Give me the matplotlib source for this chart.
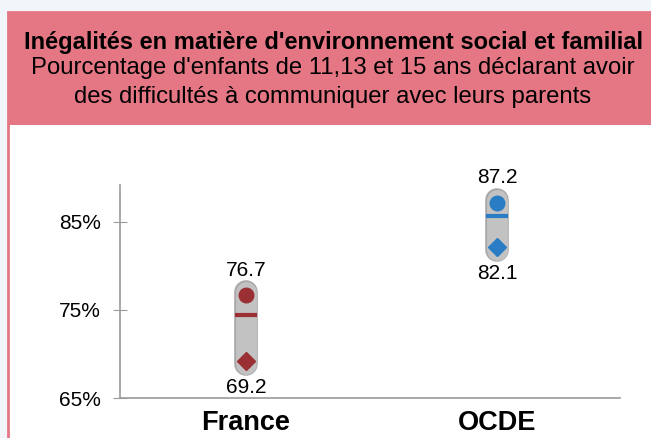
import matplotlib.pyplot as plt
from matplotlib.patches import Rectangle

plt.rcParams['font.family'] = ['Liberation Sans', 'DejaVu Sans']

# données
pays = ["France", "OCDE"]
val_haut = [76.7, 87.2]     # cercle
val_bas = [69.2, 82.1]      # losange
moyenne = [74.4, 85.7]      # trait
couleurs = ["#9A3034", "#2A7DC4"]
yticks = [65, 75, 85]
ytick_labels = ["65%", "75%", "85%"]

titre = "Inégalités en matière d'environnement social et familial"
sous_titre_1 = "Pourcentage d'enfants de 11,13 et 15 ans déclarant avoir"
sous_titre_2 = "des difficultés à communiquer avec leurs parents"

fig = plt.figure(figsize=(6.51, 4.38), dpi=100)
fig.patch.set_facecolor("#F2F6FA")

# panneau blanc + bandeau rose
fig.patches.append(Rectangle((8 / 651, -0.01), 1, 1.01 - 12 / 438, transform=fig.transFigure,
                             facecolor="white", edgecolor="#E57785", linewidth=2, zorder=-2))
fig.patches.append(Rectangle((8 / 651, 1 - 125 / 438), 1, 113 / 438, transform=fig.transFigure,
                             facecolor="#E57785", edgecolor="none", zorder=-1))

fig.text(334 / 651, 1 - 42 / 438, titre, ha="center", va="center",
         fontsize=17, fontweight="bold", color="black")
fig.text(333 / 651, 1 - 68 / 438, sous_titre_1, ha="center", va="center",
         fontsize=17.2, color="black")
fig.text(333 / 651, 1 - 97 / 438, sous_titre_2, ha="center", va="center",
         fontsize=17.2, color="black")

ax = fig.add_axes([120 / 651, 1 - 398 / 438, 500 / 651, 213 / 438])
ax.set_facecolor("none")
ax.set_zorder(2)

x = list(range(len(pays)))
for i in x:
    # barre grise arrondie
    ax.plot([i, i], [val_bas[i] - 0.3, val_haut[i] + 0.3], color="#A8A8A8",
            linewidth=17, solid_capstyle="round", zorder=2)
    ax.plot([i, i], [val_bas[i] - 0.3, val_haut[i] + 0.3], color="#C2C2C2",
            linewidth=15, solid_capstyle="round", zorder=3)
    ax.plot(i, val_haut[i], marker="o", markersize=10.5, color=couleurs[i],
            linestyle="none", zorder=4)
    ax.plot(i, val_bas[i], marker="D", markersize=9, color=couleurs[i],
            linestyle="none", zorder=4)
    ax.plot([i - 0.042, i + 0.042], [moyenne[i], moyenne[i]], color=couleurs[i],
            linewidth=3, solid_capstyle="butt", zorder=4)
    ax.annotate(f"{val_haut[i]:.1f}", (i, val_haut[i]), xytext=(0, 11),
                textcoords="offset points", ha="center", va="bottom", fontsize=15)
    ax.annotate(f"{val_bas[i]:.1f}", (i, val_bas[i]), xytext=(0, -12),
                textcoords="offset points", ha="center", va="top", fontsize=15)

ax.set_xlim(-0.502, 1.49)
ax.set_ylim(65, 89.2)
ax.set_yticks(yticks)
ax.set_yticklabels(ytick_labels, fontsize=15)
ax.set_xticks(x)
ax.set_xticklabels(pays, fontsize=19.5, fontweight="bold")
ax.tick_params(axis="x", length=0, pad=9)
ax.tick_params(axis="y", direction="inout", length=10, color="#9A9A9A", pad=9)
for s in ["top", "right"]:
    ax.spines[s].set_visible(False)
for s in ["left", "bottom"]:
    ax.spines[s].set_color("#9A9A9A")
    ax.spines[s].set_linewidth(1.2)

fig.savefig("out.png", dpi=100, facecolor=fig.get_facecolor())
